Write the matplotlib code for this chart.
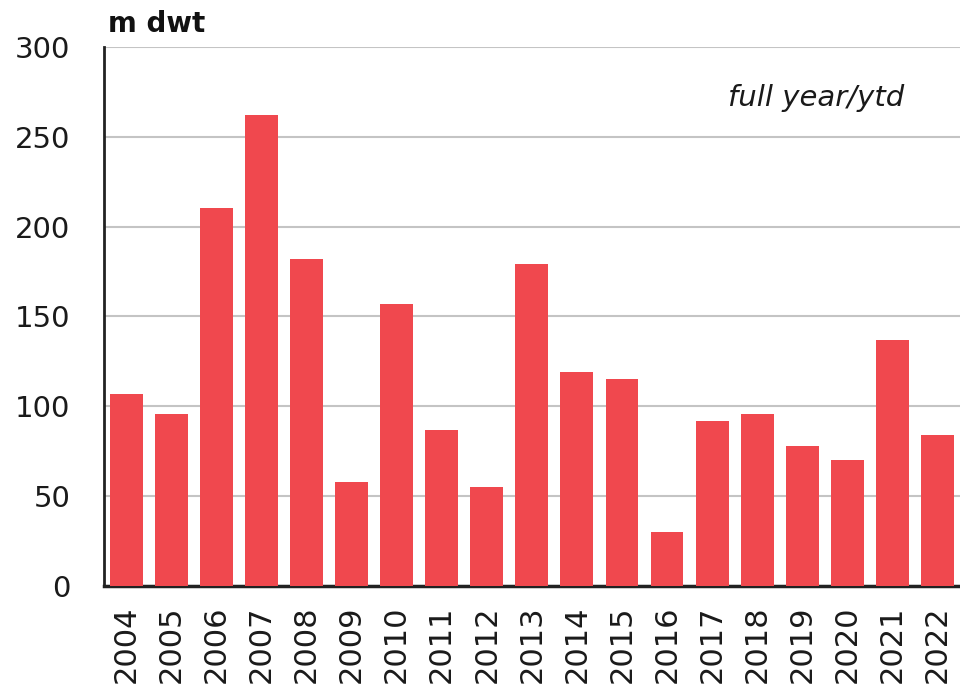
import matplotlib
matplotlib.use('Agg')
from matplotlib import pyplot as plt
import numpy as np

years = ['2004', '2005', '2006', '2007', '2008', '2009', '2010', '2011', '2012', '2013',
         '2014', '2015', '2016', '2017', '2018', '2019', '2020', '2021', '2022']
values = [107, 95.5, 210.5, 262, 182, 58, 157, 87, 55, 179,
          119, 115, 30, 92, 95.5, 78, 70, 137, 84]
yticks = [0, 50, 100, 150, 200, 250, 300]

plt.rcParams['font.family'] = ['DejaVu Sans']

fig = plt.figure(figsize=(9.6, 6.91), dpi=100)
ax = fig.add_axes([0.108, 0.152, 0.892, 0.78])

x = np.arange(len(years))
ax.bar(x, values, width=0.73, color='#F0484E', zorder=3)

ax.set_xlim(-0.5, len(years) - 0.5)
ax.set_ylim(0, 300)
ax.set_yticks(yticks)
ax.set_xticks(x)
ax.set_xticklabels(years, rotation=90, fontsize=22, color='#1a1a1a')
ax.tick_params(axis='y', labelsize=21, colors='#1a1a1a', length=0, pad=24)
ax.tick_params(axis='x', length=0, pad=14)

ax.grid(axis='y', color='#c4c4c4', linewidth=1.5, zorder=0)
for s in ['top', 'right']:
    ax.spines[s].set_visible(False)
ax.spines['left'].set_color('#222222')
ax.spines['left'].set_linewidth(2)
ax.spines['bottom'].set_color('#222222')
ax.spines['bottom'].set_linewidth(2.5)

fig.text(0.113, 0.945, 'm dwt', fontsize=20, fontweight='bold', color='#111111', va='bottom')
ax.text(0.935, 0.905, 'full year/ytd', transform=ax.transAxes, fontsize=21,
        style='italic', color='#1a1a1a', ha='right', va='center')

fig.savefig('out.png', dpi=100)
